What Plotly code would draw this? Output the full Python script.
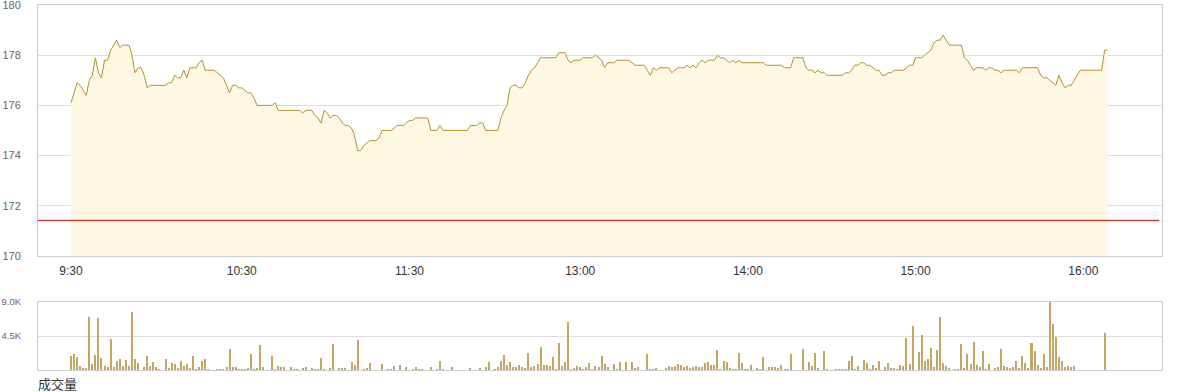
import plotly.graph_objects as go

# ---- data ----
PRICE = [
    176.1, 176.5, 176.9, 176.8, 176.6, 176.4, 177.0, 177.2, 177.9, 177.3,
    177.1, 177.8, 177.8, 178.2, 178.4, 178.6, 178.3, 178.4, 178.4, 178.4,
    178.0, 177.3, 177.5, 177.5, 177.2, 176.7, 176.8, 176.8, 176.8, 176.8,
    176.8, 176.8, 176.9, 176.9, 177.2, 177.1, 177.1, 177.4, 177.1, 177.5,
    177.5, 177.5, 177.7, 177.8, 177.4, 177.4, 177.4, 177.4, 177.3, 177.2,
    177.1, 176.8, 176.5, 176.8, 176.8, 176.7, 176.7, 176.6, 176.5, 176.5,
    176.3, 176.0, 176.0, 176.0, 176.0, 176.0, 176.0, 176.1, 175.8, 175.8,
    175.8, 175.8, 175.8, 175.8, 175.8, 175.8, 175.7, 175.8, 175.8, 175.8,
    175.6, 175.5, 175.3, 175.8, 175.7, 175.5, 175.6, 175.6, 175.5, 175.3,
    175.2, 175.2, 175.1, 174.8, 174.2, 174.2, 174.4, 174.5, 174.6, 174.6,
    174.6, 174.7, 175.0, 175.0, 175.0, 175.0, 175.1, 175.2, 175.2, 175.2,
    175.3, 175.4, 175.4, 175.5, 175.5, 175.5, 175.5, 175.5, 175.0, 175.0,
    175.0, 175.2, 175.0, 175.0, 175.0, 175.0, 175.0, 175.0, 175.0, 175.0,
    175.0, 175.2, 175.2, 175.2, 175.3, 175.3, 175.0, 175.0, 175.0, 175.0,
    175.0, 175.5, 175.8, 176.0, 176.7, 176.8, 176.8, 176.7, 176.7, 176.9,
    177.2, 177.4, 177.5, 177.7, 177.9, 177.9, 177.9, 177.9, 177.9, 177.9,
    178.1, 178.1, 178.1, 177.8, 177.7, 177.8, 177.8, 177.8, 177.9, 177.9,
    177.9, 177.9, 178.0, 177.9, 177.8, 177.5, 177.7, 177.7, 177.7, 177.8,
    177.8, 177.8, 177.8, 177.8, 177.7, 177.6, 177.6, 177.6, 177.6, 177.4,
    177.2, 177.5, 177.4, 177.5, 177.5, 177.5, 177.5, 177.3, 177.4, 177.5,
    177.5, 177.5, 177.6, 177.5, 177.6, 177.5, 177.7, 177.8, 177.7, 177.8,
    177.8, 177.8, 178.0, 177.9, 177.9, 177.8, 177.7, 177.8, 177.7, 177.8,
    177.7, 177.7, 177.7, 177.7, 177.7, 177.7, 177.7, 177.7, 177.6, 177.6,
    177.6, 177.6, 177.6, 177.6, 177.5, 177.5, 177.5, 177.9, 177.9, 177.9,
    177.9, 177.5, 177.4, 177.4, 177.3, 177.4, 177.3, 177.3, 177.2, 177.2,
    177.2, 177.2, 177.2, 177.2, 177.3, 177.3, 177.4, 177.6, 177.6, 177.7,
    177.7, 177.6, 177.6, 177.5, 177.4, 177.4, 177.2, 177.2, 177.3, 177.3,
    177.4, 177.4, 177.4, 177.4, 177.5, 177.6, 177.6, 177.9, 177.9, 177.9,
    178.0, 178.1, 178.2, 178.5, 178.6, 178.6, 178.8, 178.6, 178.4, 178.4,
    178.4, 178.4, 178.4, 177.9, 177.8, 177.6, 177.4, 177.5, 177.5, 177.5,
    177.4, 177.5, 177.5, 177.4, 177.4, 177.3, 177.4, 177.4, 177.4, 177.4,
    177.4, 177.3, 177.5, 177.5, 177.5, 177.5, 177.5, 177.5, 177.2, 177.1,
    177.1, 177.0, 176.9, 176.8, 177.2, 176.9, 176.7, 176.8, 176.8, 177.0,
    177.2, 177.4, 177.4, 177.4, 177.4, 177.4, 177.4, 177.4, 177.4, 178.2,
    178.2,
]

VOLUME = [
    1900, 2130, 1770, 530, 270, 180, 6960, 800, 2000, 6920,
    1640, 530, 400, 4120, 400, 1200, 1460, 530, 1330, 530,
    7710, 1460, 980, 0, 400, 1860, 530, 1060, 400, 130,
    0, 1460, 310, 930, 800, 310, 1200, 530, 800, 270,
    1860, 130, 400, 1200, 1460, 130, 0, 0, 130, 130,
    130, 400, 2790, 400, 400, 130, 130, 130, 270, 2130,
    130, 270, 3330, 400, 0, 0, 1860, 130, 530, 400,
    400, 0, 400, 130, 130, 0, 270, 400, 0, 270,
    130, 130, 1600, 130, 0, 270, 3460, 0, 270, 270,
    270, 0, 1060, 670, 3990, 0, 130, 270, 930, 0,
    0, 0, 800, 0, 130, 130, 530, 0, 670, 0,
    400, 0, 130, 400, 130, 130, 0, 0, 400, 0,
    130, 1200, 130, 0, 0, 400, 0, 0, 0, 0,
    0, 270, 0, 0, 270, 0, 400, 1060, 0, 130,
    400, 1200, 2000, 670, 1060, 400, 400, 670, 400, 270,
    2260, 400, 530, 800, 3060, 670, 670, 530, 1730, 130,
    3590, 530, 1060, 6380, 130, 270, 530, 400, 130, 400,
    930, 130, 530, 400, 1860, 800, 400, 0, 800, 130,
    1060, 0, 1060, 0, 1060, 270, 400, 0, 0, 2130,
    130, 130, 270, 0, 0, 270, 530, 400, 530, 800,
    670, 400, 530, 270, 400, 530, 400, 400, 930, 1060,
    670, 670, 2660, 130, 1200, 1060, 270, 130, 130, 2260,
    930, 130, 130, 670, 0, 270, 130, 1730, 0, 400,
    400, 400, 270, 670, 130, 130, 2130, 0, 0, 0,
    2790, 0, 1060, 530, 2260, 270, 0, 2530, 130, 0,
    0, 130, 130, 130, 130, 1200, 1860, 130, 530, 0,
    1330, 930, 130, 670, 270, 1200, 0, 400, 930, 270,
    270, 130, 670, 530, 4260, 800, 5850, 0, 2390, 4660,
    1200, 1460, 2930, 400, 2660, 7050, 930, 530, 270, 0,
    130, 130, 3460, 270, 2130, 800, 3720, 670, 400, 2530,
    130, 800, 0, 270, 400, 2790, 530, 400, 270, 400,
    1200, 270, 1860, 930, 270, 3590, 2530, 670, 270, 2130,
    400, 9000, 6120, 4390, 1730, 1200, 400, 530, 400, 530,
    0, 0, 0, 0, 0, 0, 0, 0, 0, 4920,
    0,
]

PREV_CLOSE = 171.42
TIME_LABELS = ["9:30", "10:30", "11:30", "13:00", "14:00", "15:00", "16:00"]
TIME_LABEL_IDX = [0, 56, 111, 167, 222, 277, 332]
PRICE_TICKS = [170, 172, 174, 176, 178, 180]
VOL_TICKS = [4500, 9000]
VOL_TICK_TEXT = ["4.5K", "9.0K"]
VOLUME_TITLE = "成交量"

minutes = list(range(len(PRICE)))

# ---- style ----
LINE_COLOR = "#b8902c"
FILL_COLOR = "#fef7e2"
BAR_COLOR = "#c4a664"
GRID = "#dddddd"
FRAME = "#cccccc"
FONT = "Liberation Sans, Arial, sans-serif"
X_RANGE = [-10.82, 357.8]

fig = go.Figure()
fig.add_trace(go.Scatter(
    x=minutes, y=PRICE, mode="lines",
    line=dict(color=LINE_COLOR, width=1),
    fill="tozeroy", fillcolor=FILL_COLOR,
    xaxis="x", yaxis="y", hoverinfo="skip", showlegend=False,
))
fig.add_trace(go.Bar(
    x=minutes, y=VOLUME, width=0.66,
    marker=dict(color=BAR_COLOR, line=dict(width=0)),
    xaxis="x2", yaxis="y2", hoverinfo="skip", showlegend=False,
))

fig.add_shape(type="line", xref="x domain", yref="y", x0=0, x1=0.9975,
              y0=PREV_CLOSE, y1=PREV_CLOSE, line=dict(color="#e00000", width=1))

fig.add_annotation(text=VOLUME_TITLE, xref="paper", yref="paper", x=-0.002, y=-0.036,
                   xanchor="left", yanchor="middle", showarrow=False,
                   font=dict(family="Noto Sans CJK SC", size=13, color="#333333"))

fig.update_layout(
    width=1180, height=392,
    margin=dict(l=38, r=18, t=5, b=22, autoexpand=False),
    paper_bgcolor="white", plot_bgcolor="white",
    template="none",
    font=dict(family=FONT),
    bargap=0,
    xaxis=dict(domain=[0, 1], range=X_RANGE, anchor="y",
               showgrid=False, zeroline=False,
               showline=True, linecolor=FRAME, linewidth=1, mirror=True,
               tickmode="array", tickvals=TIME_LABEL_IDX, ticktext=TIME_LABELS,
               ticks="", ticklabelstandoff=4,
               tickfont=dict(size=12, color="#333333", family=FONT)),
    yaxis=dict(domain=[0.3123, 1], range=[170, 180], anchor="x",
               tickmode="array", tickvals=PRICE_TICKS,
               showgrid=True, gridcolor=GRID, gridwidth=1, zeroline=False,
               showline=True, linecolor=FRAME, linewidth=1, mirror=True,
               ticks="", ticklabelstandoff=14, ticklabeloverflow="allow",
               tickfont=dict(size=11, color="#666666", family=FONT)),
    xaxis2=dict(domain=[0, 1], range=X_RANGE, anchor="y2",
                showgrid=False, zeroline=False, showticklabels=False,
                showline=True, linecolor=FRAME, linewidth=1, mirror=True, ticks=""),
    yaxis2=dict(domain=[0, 0.1863], range=[0, 9000], anchor="x2",
                tickmode="array", tickvals=VOL_TICKS, ticktext=VOL_TICK_TEXT,
                showgrid=True, gridcolor=GRID, gridwidth=1, zeroline=False,
                showline=True, linecolor=FRAME, linewidth=1, mirror=True,
                ticks="", ticklabelstandoff=14, ticklabeloverflow="allow",
                tickfont=dict(size=9.5, color="#666666", family=FONT)),
)

fig.write_html("out.html")
